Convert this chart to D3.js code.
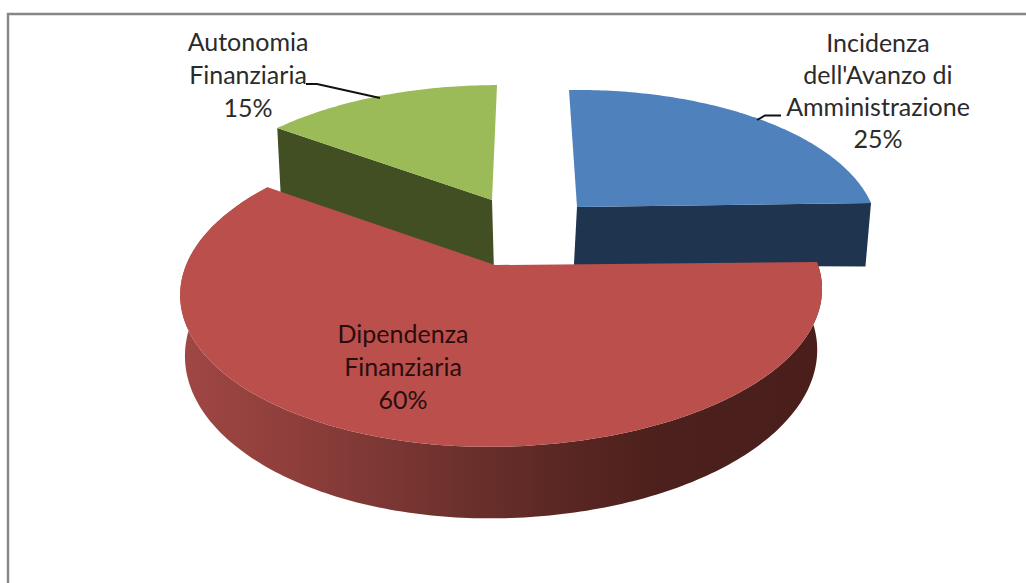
<!DOCTYPE html>
<html><head><meta charset="utf-8">
<script src="https://cdnjs.cloudflare.com/ajax/libs/d3/7.8.5/d3.min.js"></script>
<style>html,body{margin:0;padding:0;background:#fff}svg{display:block}
text{font-family:Lato,"Open Sans",sans-serif}</style></head>
<body><svg id="c" width="1026" height="583"></svg>
<script>
const categories = ["Incidenza dell'Avanzo di Amministrazione", "Dipendenza Finanziaria", "Autonomia Finanziaria"];
const values = [25, 60, 15];
const labelLines = [["Incidenza", "dell'Avanzo di", "Amministrazione"], ["Dipendenza", "Finanziaria"], ["Autonomia", "Finanziaria"]];

// Layout of each exploded slice (screen geometry of the 3D view)
const layout = [
  {top:"#4f81bd", wall:"#1f344f", ax:577, ay:207, rxR:294, rxL:294, ry:137.5, shear:-9.4, tilt:-4, tiltB:1.5, depth:58, wallStart:"right"},
  {top:"#bb4f4c", wall:"url(#redWall)", ax:495, ay:265, rxR:322, rxL:310, ry:150, shear:0, tilt:-3, tiltB:-3, depth:59, wallStart:"outer"},
  {top:"#9bbb59", wall:"#414f22", ax:492, ay:200, rxR:297, rxL:297, ry:135, shear:5.9, tilt:0, tiltB:0, depth:72, wallStart:"left"}
];
const labelPos = [
  {x:878, y:52, lh:32, color:"#2b2b2b"},
  {x:403, y:343, lh:33, color:"#2a0d0d"},
  {x:248, y:51, lh:33, color:"#2b2b2b"}
];
const k = 0.175, vpx = 500, shrink = 0.985;

const svg = d3.select("#c");
const defs = svg.append("defs");
const grad = defs.append("linearGradient").attr("id","redWall").attr("gradientUnits","userSpaceOnUse")
  .attr("x1",180).attr("x2",820).attr("y1",0).attr("y2",0);
[[0,"#a04744"],[0.2,"#8c3d3a"],[0.4,"#71332f"],[0.6,"#5a2723"],[0.75,"#4c201c"],[1,"#4a1f1b"]]
  .forEach(s=>grad.append("stop").attr("offset",s[0]).attr("stop-color",s[1]));

// Frame
const frame = d3.path(); frame.moveTo(8,583); frame.lineTo(8,14); frame.lineTo(1026,14);
svg.append("path").attr("d",frame.toString()).attr("fill","none").attr("stroke","#868686").attr("stroke-width",2.4);

const arcs = d3.pie().sort(null).value(d=>d)(values);

const fac = t => 1/(1+k*Math.cos(t));
function topPt(g,t){
  const s=fac(t), sn=Math.sin(t), c=Math.cos(t);
  return [g.ax + (sn>=0?g.rxR:g.rxL)*sn*s + g.shear*c*s, g.ay - g.ry*c*s + g.tilt*sn*s];
}
function botPt(g,t){
  const s=fac(t), sn=Math.sin(t), c=Math.cos(t), p=topPt(g,t);
  return [vpx+(p[0]-vpx)*shrink, g.ay - g.ry*c*s + g.tiltB*sn*s + g.depth*s];
}
const line = d3.line();
const angleSteps = (a,b)=>{const n=Math.max(2,Math.ceil(Math.abs(b-a)*60));return d3.range(n+1).map(i=>a+(b-a)*i/n);};

// Draw order: green, blue, red
[2,0,1].forEach(i=>{
  const g=layout[i], a=arcs[i], ts=angleSteps(a.startAngle,a.endAngle);
  let wall;
  if(g.wallStart==="right"){
    const e=a.endAngle;
    wall=[[g.ax,g.ay],topPt(g,e),botPt(g,e),[vpx+(g.ax-vpx)*0.96,g.ay+g.depth]];
  } else if(g.wallStart==="left"){
    const e=a.startAngle;
    wall=[[g.ax,g.ay],topPt(g,e),botPt(g,e),[g.ax+2,g.ay+g.depth]];
  } else {
    wall=ts.map(t=>topPt(g,t)).concat(ts.slice().reverse().map(t=>botPt(g,t)));
  }
  svg.append("path").attr("d",line(wall)+"Z").attr("fill",g.wall);
  const face=[[g.ax,g.ay]].concat(ts.map(t=>topPt(g,t)));
  svg.append("path").attr("d",line(face)+"Z").attr("fill",g.top);
});

// Leader lines
const leaderPts = [[[757,120],[765,115.5],[781,115.5]], [[306,84],[317,84],[380,98]]];
leaderPts.forEach(p=>svg.append("path").attr("d",d3.line()(p)).attr("fill","none").attr("stroke","#111").attr("stroke-width",2));

// Labels
arcs.forEach((a,i)=>{
  const lp=labelPos[i], lines=labelLines[i].concat([a.value+"%"]);
  const t=svg.append("text").attr("text-anchor","middle").attr("fill",lp.color).attr("font-size",25);
  lines.forEach((l,j)=>t.append("tspan").attr("x",lp.x).attr("y",lp.y+j*lp.lh).text(l));
});
</script></body></html>
